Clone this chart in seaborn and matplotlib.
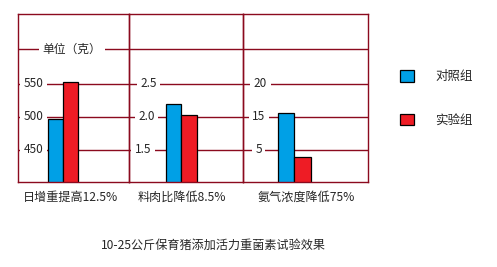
import matplotlib
matplotlib.use("Agg")
import matplotlib.pyplot as plt
import matplotlib.patches as mpatches
import seaborn as sns
import pandas as pd

# ---- data ----
groups = ["对照组", "实验组"]
categories = ["日增重提高12.5%", "料肉比降低8.5%", "氨气浓度降低75%"]
control_vals = [497, 2.19, 15.6]
trial_vals = [553, 2.03, 8.9]
tick_values = [[550, 500, 450], [2.5, 2.0, 1.5], [20, 15, 10]]
tick_labels = [["550", "500", "450"], ["2.5", "2.0", "1.5"], ["20", "15", "5"]]
unit_label = "单位（克）"
title = "10-25公斤保育猪添加活力重菌素试验效果"

colors = ["#00A0E6", "#EE1C25"]
frame_color = "#8B0A1E"

sns.set_style("white")
plt.rcParams["font.family"] = ["Noto Sans CJK SC", "DejaVu Sans"]

rows = []
for c, a, b in zip(categories, control_vals, trial_vals):
    rows.append({"指标": c, "组": groups[0], "值": a})
    rows.append({"指标": c, "组": groups[1], "值": b})
df = pd.DataFrame(rows)

W, H = 497, 267
fig = plt.figure(figsize=(W / 100, H / 100), dpi=100)

# panel layout in pixels
panels_px = [(18, 129), (129, 243), (243, 368)]
top_px, bot_px = 14, 182
ylims = [(401.5, 656.0), (1.015, 3.56), (5.15, 30.6)]
xlims = [(-1.2, 1.76), (-1.342, 1.6), (-1.23, 1.767)]
tick_x = [[0.14, 0.14, 0.14], [0.171, 0.154, 0.123], [0.14, 0.128, 0.124]]
cat_x = [0.045, 0.079, 0.12]
grid_fracs = [(bot_px - y) / (bot_px - top_px) for y in (49, 84, 117, 150)]

axes = []
for i, (x0, x1) in enumerate(panels_px):
    ax = fig.add_axes([x0 / W, 1 - bot_px / H, (x1 - x0) / W, (bot_px - top_px) / H])
    ax.set_facecolor("none")
    sub = df[df["指标"] == categories[i]]
    sns.barplot(data=sub, x="指标", y="值", hue="组", hue_order=groups,
                palette=colors, saturation=1, edgecolor="black", linewidth=0.9,
                ax=ax, legend=False, zorder=2)
    ax.set_xlim(*xlims[i])
    ax.set_ylim(*ylims[i])
    ax.set_xticks([])
    ax.set_yticks([])
    ax.set_xlabel("")
    ax.set_ylabel("")
    for s in ax.spines.values():
        s.set_color(frame_color)
        s.set_linewidth(1.0)
        s.set_visible(True)
    for f in grid_fracs:
        ax.plot([0, 1], [f, f], transform=ax.transAxes, color=frame_color,
                lw=1.0, zorder=0.5, solid_capstyle="butt")
    tr = ax.get_yaxis_transform()
    for xv, v, lab in zip(tick_x[i], tick_values[i], tick_labels[i]):
        ax.text(xv, v, lab, transform=tr, ha="center", va="center", fontsize=8.5,
                zorder=3, bbox=dict(facecolor="white", edgecolor="none", pad=2.5))
    ax.text(cat_x[i], -0.09, categories[i], transform=ax.transAxes,
            ha="left", va="center", fontsize=8.7)
    axes.append(ax)

axes[0].text((72 - 18) / 111, grid_fracs[0], unit_label, transform=axes[0].transAxes,
             ha="center", va="center", fontsize=8.5, zorder=3,
             bbox=dict(facecolor="white", edgecolor="none", pad=2.5))

handles = [mpatches.Patch(facecolor=c, edgecolor="black", linewidth=0.9, label=g)
           for c, g in zip(colors, groups)]
fig.legend(handles=handles, loc="upper left", bbox_to_anchor=(400 / W, 1 - 70 / H),
           frameon=False, fontsize=9, handlelength=1.1, handleheight=1.05,
           handletextpad=1.7, labelspacing=2.45, borderpad=0, borderaxespad=0)

fig.text(213.5 / W, 1 - 245 / H, title, ha="center", va="center", fontsize=8.7)

fig.savefig("out.png", dpi=100)
